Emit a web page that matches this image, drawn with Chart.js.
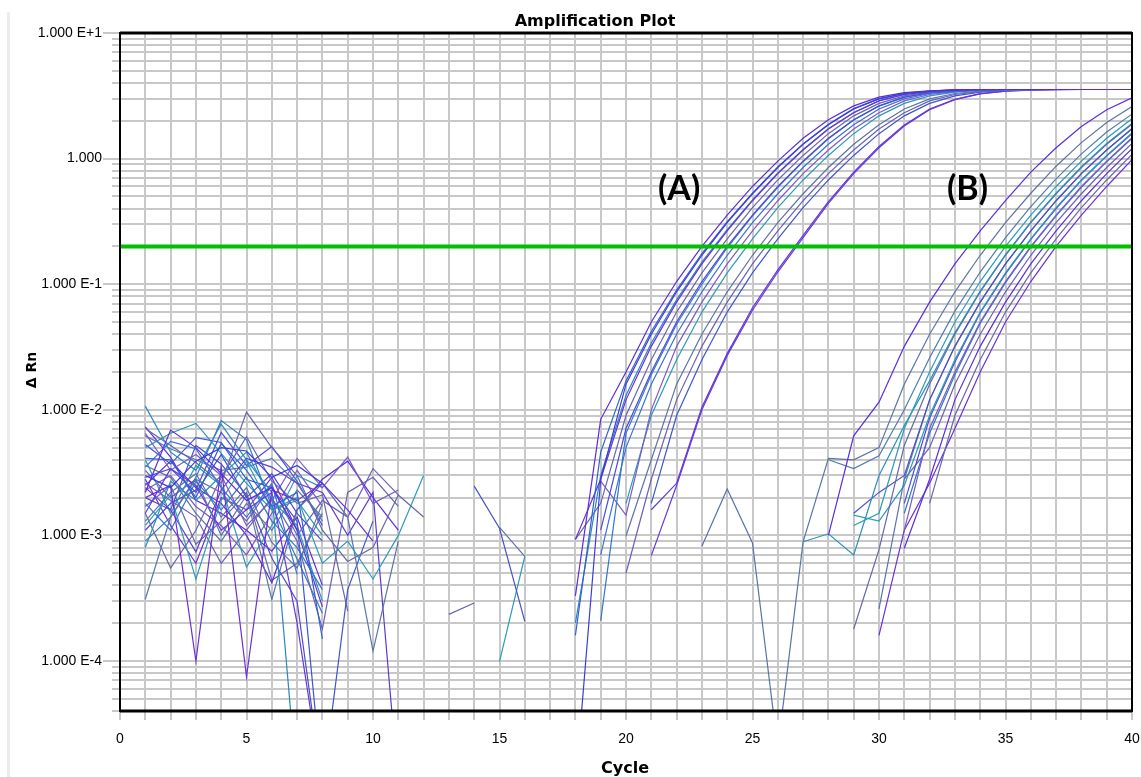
<!DOCTYPE html>
<html>
<head>
<meta charset="utf-8">
<title>Amplification Plot</title>
<script src="https://cdn.jsdelivr.net/npm/chart.js@4.4.1/dist/chart.umd.min.js"></script>
<style>
  html, body { margin: 0; padding: 0; background: #fff; }
  #wrap { position: relative; width: 1141px; height: 777px; }
  #edge { position: absolute; left: 7px; top: 12px; width: 3px; height: 765px; background: #ececec; }
  #amp { position: absolute; left: 0; top: 0; }
</style>
</head>
<body>
<div id="wrap">
  <div id="edge"></div>
  <canvas id="amp" width="1141" height="777"></canvas>
</div>
<script>
const _ = null; // negative delta Rn: nothing to draw on a log axis

const cycles = [
  1, 2, 3, 4, 5, 6, 7, 8, 9, 10,
  11, 12, 13, 14, 15, 16, 17, 18, 19, 20,
  21, 22, 23, 24, 25, 26, 27, 28, 29, 30,
  31, 32, 33, 34, 35, 36, 37, 38, 39, 40
];
const xTickLabels = [0, 5, 10, 15, 20, 25, 30, 35, 40];
const yTickValues = [10, 1, 0.1, 0.01, 0.001, 0.0001];
const yTickLabels = ['1.000 E+1', '1.000', '1.000 E-1', '1.000 E-2', '1.000 E-3', '1.000 E-4'];
const threshold = 0.2;
const groupLabels = [
  { text: '(A)', cycle: 22.1, value: 0.57 },
  { text: '(B)', cycle: 33.5, value: 0.57 }
];

// ── group A wells (early Ct) ──
const a01 = [2.2e-3, 6.9e-3, 5.0e-3, 3.1e-3, 1.9e-3, 2.4e-3, 1.1e-3, _, _, _,
  _, _, _, _, _, _, _, 3.3e-4, 8.4e-3, 0.020,
  0.050, 0.105, 0.200, 0.355, 0.60, 0.955, 1.45, 2.04, 2.63, 3.09,
  3.35, 3.47, 3.53, 3.55, 3.55, 3.55, 3.55, 3.55, 3.55, 3.55];
const a02 = [3.0e-3, 2.4e-3, 3.9e-3, 5.0e-3, 4.7e-3, 2.9e-3, 3.6e-3, 2.6e-3, _, _,
  _, _, _, _, _, _, _, 1e-5, 2.8e-3, 0.016,
  0.040, 0.087, 0.170, 0.309, 0.525, 0.85, 1.30, 1.86, 2.48, 2.99,
  3.30, 3.44, 3.52, 3.54, 3.55, 3.55, 3.55, 3.55, 3.55, 3.55];
const a03 = [4.1e-3, 4.0e-3, 2.0e-3, 5.4e-3, 3.3e-3, 1.7e-3, 2.2e-3, 1.5e-4, _, _,
  _, _, _, _, _, _, _, 1.6e-4, 4.6e-3, 0.017,
  0.042, 0.090, 0.175, 0.315, 0.53, 0.86, 1.31, 1.88, 2.50, 3.00,
  3.31, 3.45, 3.52, 3.54, 3.55, 3.55, 3.55, 3.55, 3.55, 3.55];
const a04 = [2.0e-3, 2.5e-3, 1.0e-4, 3.5e-3, 7.5e-5, 2.3e-3, 1.9e-3, 2.6e-3, 1.6e-3, 9.0e-4,
  _, _, _, _, _, _, _, 9.3e-4, 2.8e-3, 0.012,
  0.032, 0.072, 0.145, 0.266, 0.462, 0.76, 1.17, 1.72, 2.32, 2.88,
  3.24, 3.41, 3.51, 3.54, 3.55, 3.55, 3.55, 3.55, 3.55, 3.55];
const a05 = [1.07e-2, 4.6e-3, 3.3e-3, 7.7e-3, 4.0e-3, 2.2e-3, 1e-5, _, _, _,
  _, _, _, _, _, _, _, 2.0e-4, 3.0e-3, 0.013,
  0.034, 0.075, 0.150, 0.272, 0.47, 0.77, 1.18, 1.73, 2.33, 2.89,
  3.25, 3.42, 3.51, 3.54, 3.55, 3.55, 3.55, 3.55, 3.55, 3.55];
const a06 = [7.1e-3, 5.2e-3, 3.8e-3, 2.6e-3, 9.6e-3, 5.0e-3, 3.0e-3, 1.1e-3, 6.2e-4, 8.0e-4,
  2.1e-3, 1.4e-3, _, _, _, _, _, 9.3e-4, 1.8e-3, 9.0e-3,
  0.025, 0.060, 0.123, 0.23, 0.407, 0.676, 1.06, 1.58, 2.19, 2.75,
  3.16, 3.38, 3.49, 3.53, 3.55, 3.55, 3.55, 3.55, 3.55, 3.55];
const a07 = [2.9e-3, 3.4e-3, 2.2e-3, 4.4e-3, 2.0e-3, 3.1e-3, 1.5e-3, 9.0e-4, _, _,
  _, _, _, _, _, _, _, _, 1.1e-3, 7.1e-3,
  0.020, 0.050, 0.105, 0.200, 0.355, 0.60, 0.955, 1.45, 2.04, 2.63,
  3.09, 3.35, 3.47, 3.53, 3.55, 3.55, 3.55, 3.55, 3.55, 3.55];
const a08 = [1.8e-3, 1.1e-3, 2.7e-3, 1.6e-3, 2.9e-3, 1.3e-3, 8.0e-4, 3.7e-4, _, _,
  _, _, _, _, _, _, _, _, 2.1e-4, 6.5e-3,
  0.019, 0.048, 0.100, 0.195, 0.35, 0.59, 0.945, 1.44, 2.03, 2.62,
  3.08, 3.34, 3.47, 3.53, 3.55, 3.55, 3.55, 3.55, 3.55, 3.55];
const a09 = [3.5e-3, 5.6e-3, 4.9e-3, 2.4e-3, 1.4e-3, 2.6e-3, 4.9e-4, _, _, _,
  _, _, _, _, _, _, _, _, 7.0e-4, 5.0e-3,
  0.016, 0.040, 0.087, 0.170, 0.309, 0.525, 0.85, 1.30, 1.86, 2.48,
  2.99, 3.30, 3.44, 3.52, 3.54, 3.55, 3.55, 3.55, 3.55, 3.55];
const a10 = [6.5e-3, 3.3e-3, 4.4e-3, 3.0e-3, 1.2e-3, 1.9e-3, 4.1e-3, 2.4e-3, 4.2e-3, 1.8e-3,
  2.3e-3, _, _, _, _, _, _, _, 2.7e-3, 1.45e-3,
  0.010, 0.032, 0.072, 0.145, 0.266, 0.462, 0.76, 1.17, 1.72, 2.32,
  2.88, 3.24, 3.41, 3.51, 3.54, 3.55, 3.55, 3.55, 3.55, 3.55];
const a11 = [1.2e-3, 2.1e-3, 4.5e-4, 1.9e-3, 3.9e-3, 1.6e-3, 2.0e-3, 6.0e-4, 9.0e-4, 4.5e-4,
  1.0e-3, 3.0e-3, _, _, _, _, _, _, _, 1.8e-3,
  9.0e-3, 0.025, 0.060, 0.123, 0.23, 0.407, 0.676, 1.06, 1.58, 2.19,
  2.75, 3.16, 3.38, 3.49, 3.53, 3.55, 3.55, 3.55, 3.55, 3.55];
const a12 = [3.1e-4, 1.4e-3, 2.8e-3, 1.0e-3, 2.1e-3, 3.1e-4, 1.6e-3, 2.6e-3, 1.4e-3, 1.2e-4,
  9.0e-4, _, _, _, _, _, _, _, _, 9.9e-4,
  4.0e-3, 0.016, 0.040, 0.087, 0.170, 0.309, 0.525, 0.85, 1.30, 1.86,
  2.48, 2.99, 3.30, 3.44, 3.52, 3.54, 3.55, 3.55, 3.55, 3.55];
const a13 = [2.6e-3, 1.9e-3, 1.4e-3, 6.0e-4, 1.1e-3, 2.0e-3, 9.0e-4, 1.8e-4, 2.2e-3, 2.9e-3,
  1.7e-3, _, _, _, _, _, _, _, _, 5.0e-4,
  2.8e-3, 0.012, 0.032, 0.072, 0.145, 0.266, 0.462, 0.76, 1.17, 1.72,
  2.32, 2.88, 3.24, 3.41, 3.51, 3.54, 3.55, 3.55, 3.55, 3.55];
const a14 = [5.3e-3, 3.7e-3, 6.0e-3, 5.5e-3, 2.8e-3, 2.4e-3, 1.3e-3, 1e-5, 3.7e-4, 1.3e-3,
  _, _, _, _, _, _, _, _, _, _,
  1.8e-3, 9.0e-3, 0.025, 0.060, 0.123, 0.23, 0.407, 0.676, 1.06, 1.58,
  2.19, 2.75, 3.16, 3.38, 3.49, 3.53, 3.55, 3.55, 3.55, 3.55];
const a15 = [1.5e-3, 3.4e-3, 2.5e-3, 1.1e-3, 1.6e-3, 2.2e-3, 2.0e-4, 1e-5, _, _,
  _, _, _, _, _, _, _, _, _, _,
  6.9e-4, 2.5e-3, 0.010, 0.027, 0.062, 0.125, 0.235, 0.44, 0.76, 1.22,
  1.82, 2.45, 2.95, 3.28, 3.44, 3.51, 3.54, 3.55, 3.55, 3.55];
const a16 = [2.4e-3, 1.6e-3, 7.4e-4, 2.3e-3, 4.1e-3, 3.5e-3, 2.6e-3, 2.2e-3, 1.0e-3, 2.2e-3,
  1e-5, _, _, _, _, _, _, _, _, _,
  1.6e-3, 2.6e-3, 0.0105, 0.028, 0.065, 0.13, 0.245, 0.455, 0.78, 1.25,
  1.85, 2.48, 2.97, 3.29, 3.45, 3.52, 3.54, 3.55, 3.55, 3.55];

// ── group B wells (late Ct) ──
const b01 = [2.5e-3, 3.9e-3, 2.4e-3, 1.8e-3, 1.0e-3, 4.2e-4, 1.6e-3, 2.8e-3, 3.9e-3, 2.0e-3,
  1.1e-3, _, _, _, _, _, _, _, _, _,
  _, _, _, _, _, _, _, 1.0e-3, 6.2e-3, 0.0115,
  0.032, 0.072, 0.145, 0.266, 0.462, 0.78, 1.22, 1.80, 2.45, 3.05];
const b02 = [1.3e-3, 2.2e-3, 3.1e-3, 1.4e-3, 2.4e-3, 8.8e-4, 5.5e-4, 1.8e-3, _, _,
  _, _, _, _, _, _, _, _, _, _,
  _, _, 8.2e-4, 2.34e-3, 8.7e-4, 2e-5, 8.9e-4, 4.1e-3, 4.0e-3, 5.0e-3,
  0.016, 0.040, 0.087, 0.170, 0.309, 0.53, 0.87, 1.34, 1.94, 2.60];
const b03 = [6.2e-3, 4.9e-3, 4.0e-3, 3.3e-3, 3.5e-3, 4.1e-3, 2.6e-3, 1.3e-3, _, _,
  _, _, _, _, _, _, _, _, _, _,
  _, _, _, _, _, _, _, 4.0e-3, 3.4e-3, 4.3e-3,
  0.010, 0.026, 0.061, 0.125, 0.235, 0.415, 0.69, 1.09, 1.63, 2.26];
const b04 = [4.0e-3, 1.5e-3, 3.6e-3, 2.5e-3, 5.6e-4, 1.2e-3, 3.0e-3, 2.4e-3, _, _,
  _, _, _, _, _, _, _, _, _, _,
  _, _, _, _, _, _, _, _, 1.2e-3, 1.5e-3,
  7.1e-3, 0.020, 0.050, 0.105, 0.200, 0.355, 0.60, 0.955, 1.45, 2.08];
const b05 = [8.0e-4, 2.7e-3, 1.9e-3, 3.0e-3, 4.6e-3, 1.9e-3, 1.2e-3, 3.0e-4, _, _,
  _, _, _, _, _, _, _, _, _, _,
  _, _, _, _, _, _, 8.9e-4, 1.03e-3, 7.0e-4, 3.0e-3,
  7.5e-3, 0.017, 0.041, 0.088, 0.172, 0.312, 0.53, 0.86, 1.32, 1.90];
const b06 = [1.5e-3, 5.5e-4, 1.1e-3, 2.9e-3, 6.1e-3, 2.7e-3, 1.8e-3, 2.1e-3, 2.5e-4, _,
  _, _, 2.35e-4, 2.9e-4, _, _, _, _, _, _,
  _, _, _, _, _, _, _, _, 1.8e-4, 7.7e-4,
  5.2e-3, 0.016, 0.040, 0.087, 0.170, 0.309, 0.525, 0.85, 1.30, 1.88];
const b07 = [2.0e-3, 1.6e-3, 5.2e-3, 3.7e-3, 2.1e-3, 6.6e-4, 3.0e-4, 1e-5, _, _,
  _, _, _, 2.47e-3, 1.14e-3, 2.07e-4, _, _, _, _,
  _, _, _, _, _, _, _, _, 1.5e-3, 2.2e-3,
  3.0e-3, 0.012, 0.032, 0.072, 0.145, 0.266, 0.462, 0.76, 1.17, 1.74];
const b08 = [3.6e-3, 2.9e-3, 1.5e-3, 9.0e-4, 1.8e-3, 1.1e-3, 2.3e-3, 1.4e-3, _, _,
  _, _, _, _, 1.16e-3, 6.8e-4, _, _, _, _,
  _, _, _, _, _, _, _, _, _, 2.6e-4,
  2.8e-3, 0.012, 0.032, 0.072, 0.145, 0.266, 0.462, 0.76, 1.17, 1.72];
const b09 = [5.0e-3, 6.5e-3, 7.8e-3, 4.5e-3, 2.6e-3, 1.6e-3, 1.9e-3, 1.0e-3, _, _,
  _, _, _, _, 9.9e-5, 6.8e-4, _, _, _, _,
  _, _, _, _, _, _, _, _, 1.45e-3, 1.3e-3,
  2.5e-3, 9.0e-3, 0.025, 0.060, 0.123, 0.23, 0.407, 0.676, 1.06, 1.60];
const b10 = [1.1e-3, 1.8e-3, 2.3e-3, 6.6e-3, 3.6e-3, 5.1e-3, 2.7e-3, 1.2e-3, _, _,
  _, _, _, _, _, _, _, _, _, _,
  _, _, _, _, _, _, _, _, _, _,
  1.8e-3, 8.6e-3, 0.024, 0.059, 0.121, 0.227, 0.40, 0.67, 1.05, 1.58];
const b11 = [2.3e-3, 3.0e-3, 1.7e-3, 1.2e-3, 7.0e-4, 1.5e-3, 3.3e-3, 1.7e-3, _, _,
  _, _, _, _, _, _, _, _, _, _,
  _, _, _, _, _, _, _, _, _, _,
  1.1e-3, 7.1e-3, 0.020, 0.050, 0.105, 0.200, 0.355, 0.60, 0.955, 1.47];
const b12 = [9.0e-4, 1.4e-3, 2.9e-3, 8.2e-3, 5.8e-3, 1.7e-3, 6.5e-4, 2.4e-4, _, _,
  _, _, _, _, _, _, _, _, _, _,
  _, _, _, _, _, _, _, _, _, _,
  1.5e-3, 6.5e-3, 0.019, 0.049, 0.103, 0.197, 0.35, 0.59, 0.945, 1.45];
const b13 = [3.3e-3, 2.0e-3, 2.8e-3, 2.2e-3, 1.3e-3, 2.5e-3, 1.0e-3, 1.9e-3, 1.4e-3, 3.4e-3,
  2.1e-3, _, _, _, _, _, _, _, _, _,
  _, _, _, _, _, _, _, _, _, _,
  2.8e-3, 5.0e-3, 0.016, 0.040, 0.087, 0.170, 0.309, 0.525, 0.85, 1.32];
const b14 = [7.3e-3, 4.2e-3, 1.9e-3, 1.5e-3, 1.1e-3, 7.5e-4, 1.4e-3, 4.0e-4, _, _,
  _, _, _, _, _, _, _, _, _, _,
  _, _, _, _, _, _, _, _, _, _,
  7.9e-4, 2.8e-3, 0.012, 0.032, 0.072, 0.145, 0.266, 0.462, 0.76, 1.20];
const b15 = [1.7e-3, 2.5e-3, 8.5e-4, 1.3e-3, 2.2e-3, 4.4e-4, 6.0e-4, 1.5e-3, _, _,
  _, _, _, _, _, _, _, _, _, _,
  _, _, _, _, _, _, _, _, _, _,
  _, 1.8e-3, 9.0e-3, 0.025, 0.060, 0.123, 0.23, 0.407, 0.676, 1.08];
const b16 = [2.8e-3, 1.2e-3, 6.0e-4, 2.0e-3, 1.6e-3, 2.9e-3, 1.1e-3, 2.7e-4, _, _,
  _, _, _, _, _, _, _, _, _, _,
  _, _, _, _, _, _, _, _, _, 1.6e-4,
  1.1e-3, 2.6e-3, 7.1e-3, 0.020, 0.050, 0.105, 0.200, 0.355, 0.60, 0.98];

const wells = [a01, a02, a03, a04, a05, a06, a07, a08, a09, a10, a11, a12, a13, a14, a15, a16,
  b01, b02, b03, b04, b05, b06, b07, b08, b09, b10, b11, b12, b13, b14, b15, b16];
const wellColors = [
  '#5b2be0', '#3b3bd9', '#2f62d0', '#6a2fd8', '#2a86c4', '#6666aa', '#4a4ae0', '#2f78c8',
  '#3a6fd8', '#7a5ac8', '#2b9ab8', '#5a74a8', '#6a5fb8', '#3d55d0', '#6a35e0', '#5f3ad0',
  '#5b2be0', '#5a74a8', '#4f7bb0', '#2b9ab8', '#2a8fc0', '#6666aa', '#4a50c8', '#5a74a8',
  '#2b9ab8', '#4a4ae0', '#7a5ac8', '#2f78c8', '#6a5fb8', '#5b2be0', '#6666aa', '#6a2fd8'
];

const X_MIN = 0, X_MAX = 40, Y_MIN = 4e-5, Y_MAX = 10;
const GRID = '#c8c8c8';
const TICK_FONT = { family: '"Liberation Sans", Arial, sans-serif', size: 14 };

// every cycle gets a vertical grid line, every 1..9 x 10^n a horizontal one
const xGrid = [X_MIN, ...cycles];
const yGrid = [];
yTickValues.slice().reverse().forEach(decade => {
  for (let m = 1; m <= 9; m++) {
    const v = decade * m;
    if (v >= Y_MIN * 0.999 && v <= Y_MAX * 1.001) yGrid.push(v);
  }
});
[5e-5, 6e-5, 7e-5, 8e-5, 9e-5, 4e-5].forEach(v => yGrid.push(v));

function decadeLabel(v) {
  const k = yTickValues.findIndex(t => Math.abs(Math.log10(t) - Math.log10(v)) < 1e-6);
  return k >= 0 ? yTickLabels[k] : '';
}

const datasets = [{
  label: 'Threshold',
  data: [{ x: X_MIN, y: threshold }, { x: X_MAX, y: threshold }],
  borderColor: '#00c000',
  borderWidth: 4,
  pointRadius: 0
}];
wells.forEach((vals, i) => {
  datasets.push({
    label: 'Well ' + (i + 1),
    data: vals.map((v, k) => ({ x: cycles[k], y: v })),
    borderColor: wellColors[i],
    borderWidth: 1.2,
    pointRadius: 0,
    tension: 0,
    spanGaps: false
  });
});

// frame, decade marks, titles and group labels
const decorations = {
  id: 'decorations',
  afterDatasetsDraw(chart) {
    const { ctx, chartArea: a, scales: { x, y } } = chart;
    ctx.save();

    ctx.strokeStyle = GRID;
    ctx.lineWidth = 2;
    yTickValues.forEach(v => {
      const py = Math.round(y.getPixelForValue(v));
      ctx.beginPath();
      ctx.moveTo(a.left - 17, py);
      ctx.lineTo(a.left - 7, py);
      ctx.stroke();
    });

    ctx.strokeStyle = '#000';
    ctx.lineWidth = 2;
    ctx.strokeRect(a.left, a.top, a.right - a.left, a.bottom - a.top);
    ctx.lineWidth = 3;
    ctx.beginPath();
    ctx.moveTo(a.left, a.top); ctx.lineTo(a.right, a.top);
    ctx.moveTo(a.left, a.bottom); ctx.lineTo(a.right, a.bottom);
    ctx.stroke();

    ctx.fillStyle = '#000';
    ctx.textAlign = 'center';
    ctx.textBaseline = 'middle';
    ctx.font = 'bold 34px Lato, "Open Sans", sans-serif';
    groupLabels.forEach(g => {
      ctx.fillText(g.text, x.getPixelForValue(g.cycle), y.getPixelForValue(g.value));
    });

    ctx.font = 'bold 16px "DejaVu Sans", sans-serif';
    ctx.textBaseline = 'alphabetic';
    ctx.fillText('Amplification Plot', 595, 26);
    ctx.fillText('Cycle', 625, 773);

    ctx.font = 'bold 14px "DejaVu Sans", sans-serif';
    ctx.translate(36, 370);
    ctx.rotate(-Math.PI / 2);
    ctx.fillText('\u0394 Rn', 0, 0);
    ctx.restore();
  }
};

new Chart(document.getElementById('amp').getContext('2d'), {
  type: 'line',
  data: { datasets },
  plugins: [decorations],
  options: {
    responsive: false,
    animation: false,
    devicePixelRatio: 1,
    events: [],
    layout: { padding: { left: 0, right: 9, top: 33, bottom: 0 } },
    plugins: {
      legend: { display: false },
      title: { display: false },
      tooltip: { enabled: false }
    },
    scales: {
      x: {
        type: 'linear',
        min: X_MIN,
        max: X_MAX,
        afterBuildTicks: s => { s.ticks = xGrid.map(v => ({ value: v })); },
        // fixed axis band; edge labels may hang into the outer padding
        afterFit: s => { s.height = 66; s.paddingLeft = 0; s.paddingRight = 0; },
        ticks: {
          autoSkip: false,
          maxRotation: 0,
          padding: 11,
          color: '#000',
          font: TICK_FONT,
          callback: v => xTickLabels.includes(v) ? String(v) : ''
        },
        grid: { color: GRID, lineWidth: 2, tickLength: 9 },
        border: { display: false }
      },
      y: {
        type: 'logarithmic',
        min: Y_MIN,
        max: Y_MAX,
        afterBuildTicks: s => { s.ticks = yGrid.map(v => ({ value: v })); },
        afterFit: s => { s.width = 120; s.paddingTop = 0; s.paddingBottom = 0; },
        ticks: {
          autoSkip: false,
          padding: 10,
          color: '#000',
          font: TICK_FONT,
          callback: v => decadeLabel(v)
        },
        grid: { color: GRID, lineWidth: 2, tickLength: 8 },
        border: { display: false }
      }
    }
  }
});
</script>
</body>
</html>
